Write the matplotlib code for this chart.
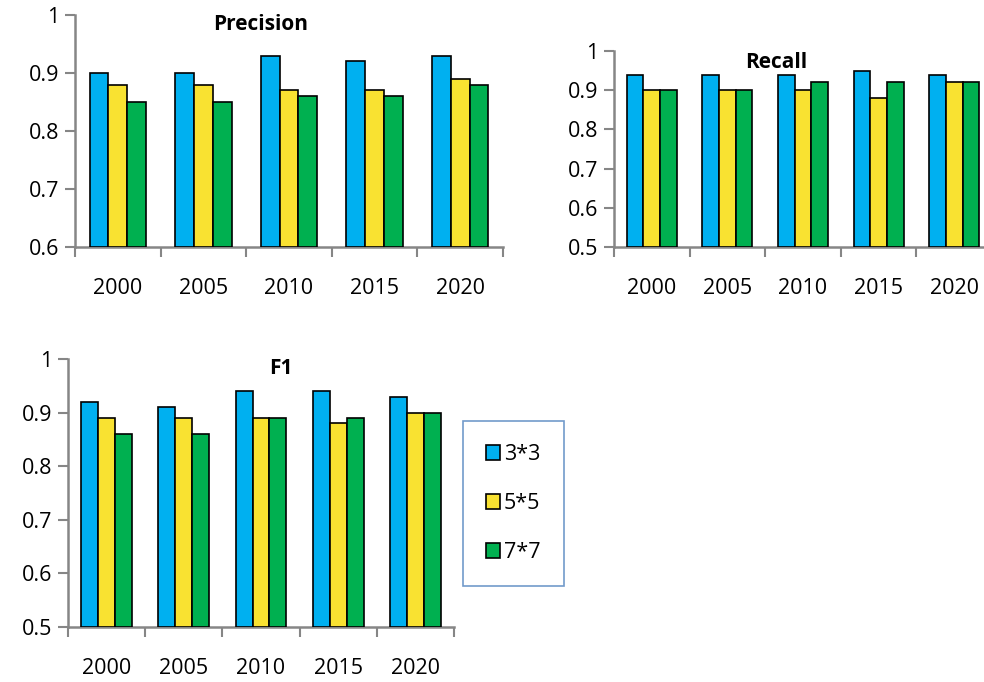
import matplotlib
matplotlib.use("Agg")
import matplotlib.pyplot as plt
import numpy as np

years = ["2000", "2005", "2010", "2015", "2020"]
series = ["3*3", "5*5", "7*7"]
colors = ["#00B0F0", "#F9E231", "#00B050"]

precision_3 = [0.90, 0.90, 0.93, 0.92, 0.93]
precision_5 = [0.88, 0.88, 0.87, 0.87, 0.89]
precision_7 = [0.85, 0.85, 0.86, 0.86, 0.88]

recall_3 = [0.94, 0.94, 0.94, 0.95, 0.94]
recall_5 = [0.90, 0.90, 0.90, 0.88, 0.92]
recall_7 = [0.90, 0.90, 0.92, 0.92, 0.92]

f1_3 = [0.92, 0.91, 0.94, 0.94, 0.93]
f1_5 = [0.89, 0.89, 0.89, 0.88, 0.90]
f1_7 = [0.86, 0.86, 0.89, 0.89, 0.90]

plt.rcParams['font.family'] = ['Open Sans', 'DejaVu Sans']
W, H = 984, 682
fig = plt.figure(figsize=(W / 100, H / 100), dpi=100)

gray = "#868686"
FS = 15.5


def px_axes(x0, x1, y0, y1):
    return fig.add_axes([x0 / W, 1 - y1 / H, (x1 - x0) / W, (y1 - y0) / H])


def draw(ax, data, ymin, yticks):
    x = np.arange(len(years))
    w = 0.22
    bars = []
    for i, (vals, c) in enumerate(zip(data, colors)):
        b = ax.bar(x + (i - 1) * w, np.array(vals) - ymin, bottom=ymin, width=w,
                   color=c, edgecolor="black", linewidth=1.2, label=series[i], zorder=3)
        bars.append(b)
    ax.set_xlim(-0.5, len(years) - 0.5)
    ax.set_ylim(ymin, 1.0)
    ax.set_yticks(yticks)
    ax.set_yticklabels([("%g" % t) for t in yticks], fontsize=FS)
    ax.set_xticks(x)
    ax.set_xticklabels(years, fontsize=FS)
    ax.set_xticks(np.arange(-0.5, len(years)), minor=True)
    ax.tick_params(axis="x", which="major", length=0, pad=22)
    ax.tick_params(axis="x", which="minor", length=7, color=gray, width=1.5, direction="out")
    ax.tick_params(axis="y", length=7, color=gray, width=1.5, direction="out", pad=4)
    for s in ["top", "right"]:
        ax.spines[s].set_visible(False)
    for s in ["left", "bottom"]:
        ax.spines[s].set_color(gray)
        ax.spines[s].set_linewidth(1.8)
    return bars


ax1 = px_axes(75, 503, 15, 247)
draw(ax1, [precision_3, precision_5, precision_7], 0.6, [0.6, 0.7, 0.8, 0.9, 1.0])
fig.text(261 / W, 1 - 25 / H, "Precision", ha="center", va="center", fontsize=15, fontweight="bold")

ax2 = px_axes(614, 992, 51, 247)
draw(ax2, [recall_3, recall_5, recall_7], 0.5, [0.5, 0.6, 0.7, 0.8, 0.9, 1.0])
fig.text(776 / W, 1 - 62 / H, "Recall", ha="center", va="center", fontsize=15, fontweight="bold")

ax3 = px_axes(68, 454, 359, 627)
bars = draw(ax3, [f1_3, f1_5, f1_7], 0.5, [0.5, 0.6, 0.7, 0.8, 0.9, 1.0])
fig.text(281 / W, 1 - 369 / H, "F1", ha="center", va="center", fontsize=15, fontweight="bold")

leg = fig.legend(handles=bars, labels=series, loc="center",
                 bbox_to_anchor=(463 / W, 1 - 583 / H, 101 / W, 159 / H), mode="expand",
                 bbox_transform=fig.transFigure, borderaxespad=0, fontsize=FS,
                 frameon=True, fancybox=False, handlelength=0.65, handleheight=0.65,
                 handletextpad=0.2, labelspacing=1.3, borderpad=1.05)
leg.get_frame().set_edgecolor("#4F81BD")
leg.get_frame().set_linewidth(1.2)

fig.savefig("out.png", dpi=100)
